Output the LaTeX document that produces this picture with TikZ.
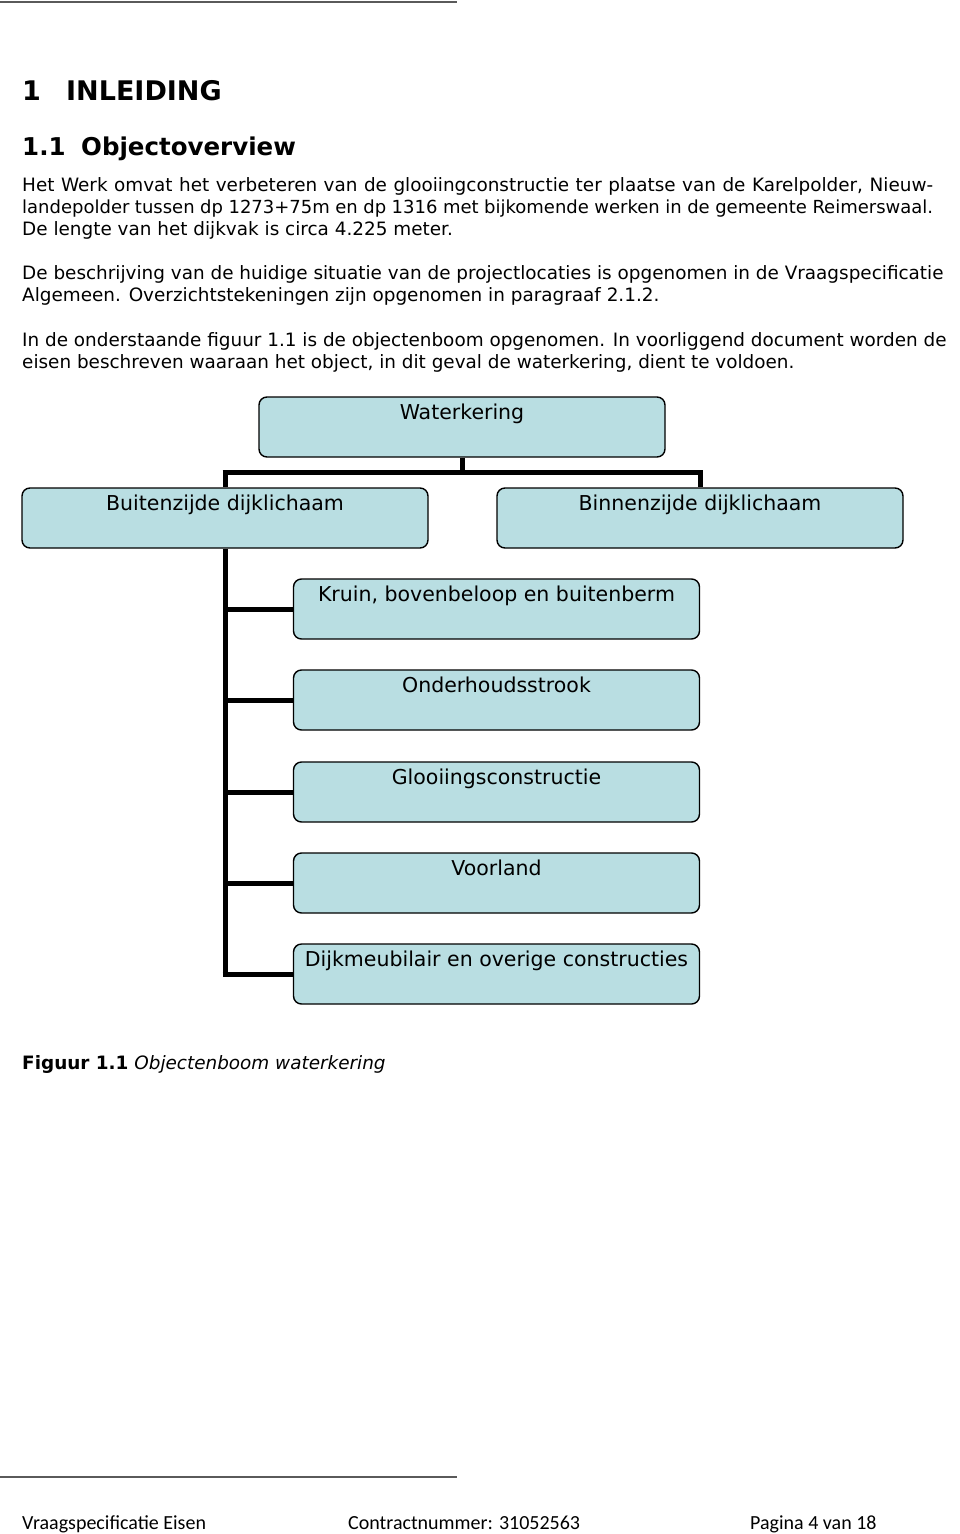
\documentclass[tikz,border=0pt]{standalone}
\usepackage{fontspec}
\setmainfont{DejaVu Sans}
\newfontfamily\footfont{Carlito}
\usetikzlibrary{calc}
\definecolor{boxblue}{RGB}{185,222,226}
\definecolor{rulegray}{RGB}{90,90,90}
\tikzset{
  box/.style={draw=black, line width=1.4pt, fill=boxblue, rounded corners=8pt,
    minimum width=406pt, minimum height=60pt, inner sep=0pt},
  boxtext/.style={anchor=base, inner sep=0pt, font=\fontsize{20.5}{24}\selectfont},
  conn/.style={line width=5pt, draw=black},
  body/.style={anchor=base west, inner sep=0pt, font=\fontsize{18.4}{22}\selectfont},
  head/.style={anchor=base west, inner sep=0pt, font=\fontsize{27}{30}\selectfont\bfseries},
  headb/.style={anchor=base west, inner sep=0pt, font=\fontsize{24.5}{28}\selectfont\bfseries},
  foot/.style={anchor=base west, inner sep=0pt, font=\footfont\fontsize{20}{23}\selectfont},
  rule/.style={draw=rulegray, line width=2pt}
}
\begin{document}
\begin{tikzpicture}[x=1pt,y=-1pt]
\useasboundingbox (0,0) rectangle (960,1534);
\fill[white] (0,0) rectangle (960,1534);

% rules
\coordinate (rt1) at (0,2); \coordinate (rt2) at (457,2);
\draw[rule] (rt1) -- (rt2);
\coordinate (rb1) at (0,1477); \coordinate (rb2) at (457,1477);
\draw[rule] (rb1) -- (rb2);

% headings
\node[head] (h1) at (22,100) {1};
\node[head] (h1b) at (66,100) {INLEIDING};
\node[headb] (h2) at (22,155) {1.1};
\node[headb] (h2b) at (81,155) {Objectoverview};

% body text
\node[body] (t1) at (22,191) {\makebox[911pt][s]{Het Werk omvat het verbeteren van de glooiingconstructie ter plaatse van de Karelpolder, Nieuw-}};
\node[body] (t2) at (22,213) {\makebox[911pt][s]{\fontsize{18}{22}\selectfont landepolder tussen dp 1273+75m en dp 1316 met bijkomende werken in de gemeente Reimerswaal.}};
\node[body] (t3) at (22,235) {De lengte van het dijkvak is circa 4.225 meter.};
\node[body] (t4) at (22,279) {De beschrijving van de huidige situatie van de projectlocaties is opgenomen in de Vraagspecificatie};
\node[body] (t5) at (22,301) {Algemeen. Overzichtstekeningen zijn opgenomen in paragraaf 2.1.2.};
\node[body] (t6) at (22,346) {In de onderstaande figuur 1.1 is de objectenboom opgenomen. In voorliggend document worden de};
\node[body] (t7) at (22,368) {eisen beschreven waaraan het object, in dit geval de waterkering, dient te voldoen.};

\coordinate (wbar) at (462,472);

% boxes
\node[box] (w) at (462,427) {};
\node[box] (bu) at (225,518) {};
\node[box] (bi) at (700,518) {};
\node[box] (c1) at (496.5,609) {};
\node[box] (c2) at (496.5,700) {};
\node[box] (c3) at (496.5,792) {};
\node[box] (c4) at (496.5,883) {};
\node[box] (c5) at (496.5,974) {};

% connectors
\draw[conn] (w.south) -- (wbar);
\draw[conn] ([xshift=-2.5pt]bu.north |- wbar) -- ([xshift=2.5pt]bi.north |- wbar);
\draw[conn] (bu.north |- wbar) -- (bu.north);
\draw[conn] (bi.north |- wbar) -- (bi.north);
\draw[conn] (bu.south) -- ([yshift=-2.5pt]bu.south |- c5.west);
\draw[conn] (bu.south |- c1.west) -- (c1.west);
\draw[conn] (bu.south |- c2.west) -- (c2.west);
\draw[conn] (bu.south |- c3.west) -- (c3.west);
\draw[conn] (bu.south |- c4.west) -- (c4.west);
\draw[conn] ([xshift=-2.5pt]bu.south |- c5.west) -- (c5.west);

% box texts
\node[boxtext] (wl) at ($(w.north)+(0,23)$) {Waterkering};
\node[boxtext] (bul) at ($(bu.north)+(0,23)$) {Buitenzijde dijklichaam};
\node[boxtext] (bil) at ($(bi.north)+(0,23)$) {Binnenzijde dijklichaam};
\node[boxtext] (c1l) at ($(c1.north)+(0,23)$) {Kruin, bovenbeloop en buitenberm};
\node[boxtext] (c2l) at ($(c2.north)+(0,23)$) {Onderhoudsstrook};
\node[boxtext] (c3l) at ($(c3.north)+(0,23)$) {Glooiingsconstructie};
\node[boxtext] (c4l) at ($(c4.north)+(0,23)$) {Voorland};
\node[boxtext] (c5l) at ($(c5.north)+(0,23)$) {Dijkmeubilair en overige constructies};

% caption
\node[body] (cap) at (22,1069) {\textbf{Figuur 1.1} \textit{Objectenboom waterkering}};

% footer
\node[foot] (f1) at (22,1529) {Vraagspecificatie Eisen};
\node[foot] (f2) at (348,1529) {Contractnummer: 31052563};
\node[foot] (f3) at (750,1529) {Pagina 4 van 18};
\end{tikzpicture}
\end{document}
